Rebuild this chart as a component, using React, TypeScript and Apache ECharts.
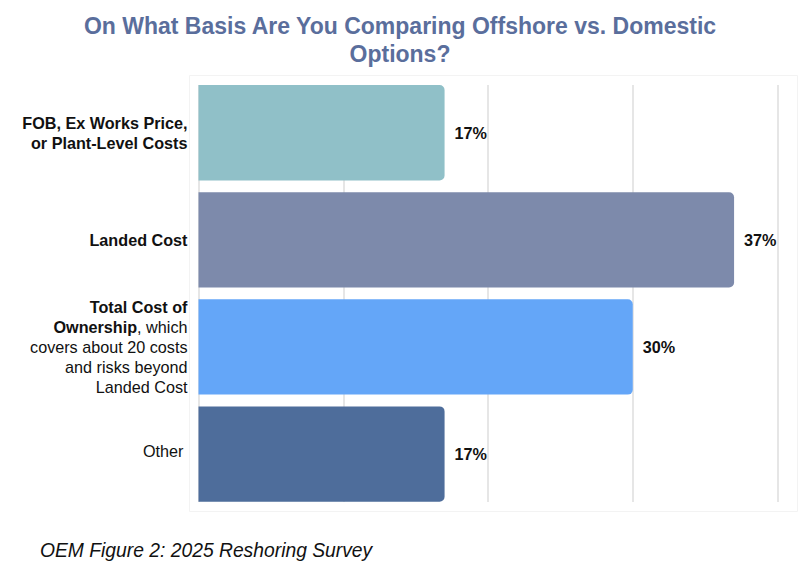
import React, { useEffect, useRef } from "react";
import * as echarts from "echarts";

const titleText = "On What Basis Are You Comparing Offshore vs. Domestic\nOptions?";
const footnote = "OEM Figure 2: 2025 Reshoring Survey";

const categories = [
  "FOB, Ex Works Price, or Plant-Level Costs",
  "Landed Cost",
  "Total Cost of Ownership, which covers about 20 costs and risks beyond Landed Cost",
  "Other",
];
// rich-text rendering of each category label
const categoryLabels = [
  "{b|FOB, Ex Works Price,}\n{b|or Plant-Level Costs}",
  "{b|Landed Cost}",
  "{b|Total Cost of}\n{b|Ownership}{n|, which}\n{n|covers about 20 costs}\n{n|and risks beyond}\n{n|Landed Cost}",
  "{o|Other}",
];
const values = [17, 37, 30, 17];
const barColors = ["#90c0c8", "#7d8aab", "#64a6f8", "#4e6d9b"];
const axisMax = 40;
const axisInterval = 10;

export default function App() {
  const ref = useRef<HTMLDivElement>(null);
  useEffect(() => {
    if (!ref.current) return;
    const chart = echarts.init(ref.current, undefined, { renderer: "svg" });
    const font = "'Liberation Sans', Arial, Helvetica, sans-serif";
    chart.setOption({
      animation: false,
      backgroundColor: "#ffffff",
      title: {
        text: titleText,
        left: "center",
        top: 7,
        textStyle: {
          fontFamily: font,
          fontSize: 23,
          fontWeight: "bold",
          color: "#5a6e9c",
          lineHeight: 28,
        },
      },
      graphic: [
        {
          type: "rect",
          shape: { x: 189.5, y: 75.5, width: 608, height: 436 },
          style: { fill: "none", stroke: "#f3f3f3", lineWidth: 1 },
          z: -1,
        },
        {
          type: "text",
          x: 40,
          y: 550,
          style: {
            text: footnote,
            fontFamily: font,
            fontSize: 19.3,
            fontStyle: "italic",
            fill: "#111111",
            verticalAlign: "middle",
          },
        },
      ],
      grid: [
        { left: 198.5, right: 22.5, top: 79.2, height: 428.4 },
        { left: 198.5, right: 22.5, top: 85, height: 417 },
      ],
      xAxis: [
        {
          gridIndex: 0,
          type: "value",
          min: 0,
          max: axisMax,
          interval: axisInterval,
          axisLine: { show: false },
          axisTick: { show: false },
          axisLabel: { show: false },
          splitLine: { show: false },
        },
        {
          gridIndex: 1,
          type: "value",
          min: 0,
          max: axisMax,
          interval: axisInterval,
          axisLine: { show: false },
          axisTick: { show: false },
          axisLabel: { show: false },
          splitLine: { show: true, lineStyle: { color: "#dedede", width: 1.5 } },
        },
      ],
      yAxis: [
        {
          gridIndex: 0,
          type: "category",
          data: categories,
          inverse: true,
          axisLine: { show: false },
          axisTick: { show: false },
          splitLine: { show: false },
          axisLabel: {
            margin: 11,
            align: "right",
            formatter: (_v: string, i: number) => categoryLabels[i],
            rich: {
              b: {
                fontFamily: font,
                fontSize: 16.2,
                fontWeight: "bold",
                color: "#111111",
                lineHeight: 20,
                align: "right",
              },
              n: {
                fontFamily: font,
                fontSize: 16.2,
                color: "#111111",
                lineHeight: 20,
                align: "right",
              },
              o: {
                fontFamily: font,
                fontSize: 16.2,
                color: "#111111",
                lineHeight: 20,
                align: "right",
                padding: [0, 4, 6, 0],
              },
            },
          },
        },
        {
          gridIndex: 1,
          type: "category",
          data: categories,
          show: false,
        },
      ],
      series: [
        {
          type: "bar",
          xAxisIndex: 0,
          yAxisIndex: 0,
          data: values.map((v, i) => ({ value: v, itemStyle: { color: barColors[i] } })),
          barCategoryGap: "11%",
          itemStyle: { borderRadius: [0, 5, 5, 0] },
          label: {
            show: true,
            position: "right",
            distance: 10,
            formatter: "{c}%",
            fontFamily: font,
            fontSize: 16.2,
            fontWeight: "bold",
            color: "#111111",
          },
          z: 3,
        },
      ],
    });
    return () => chart.dispose();
  }, []);
  return (
    <div
      ref={ref}
      style={{ position: "fixed", left: 0, top: 0, width: 800, height: 588 }}
    />
  );
}
